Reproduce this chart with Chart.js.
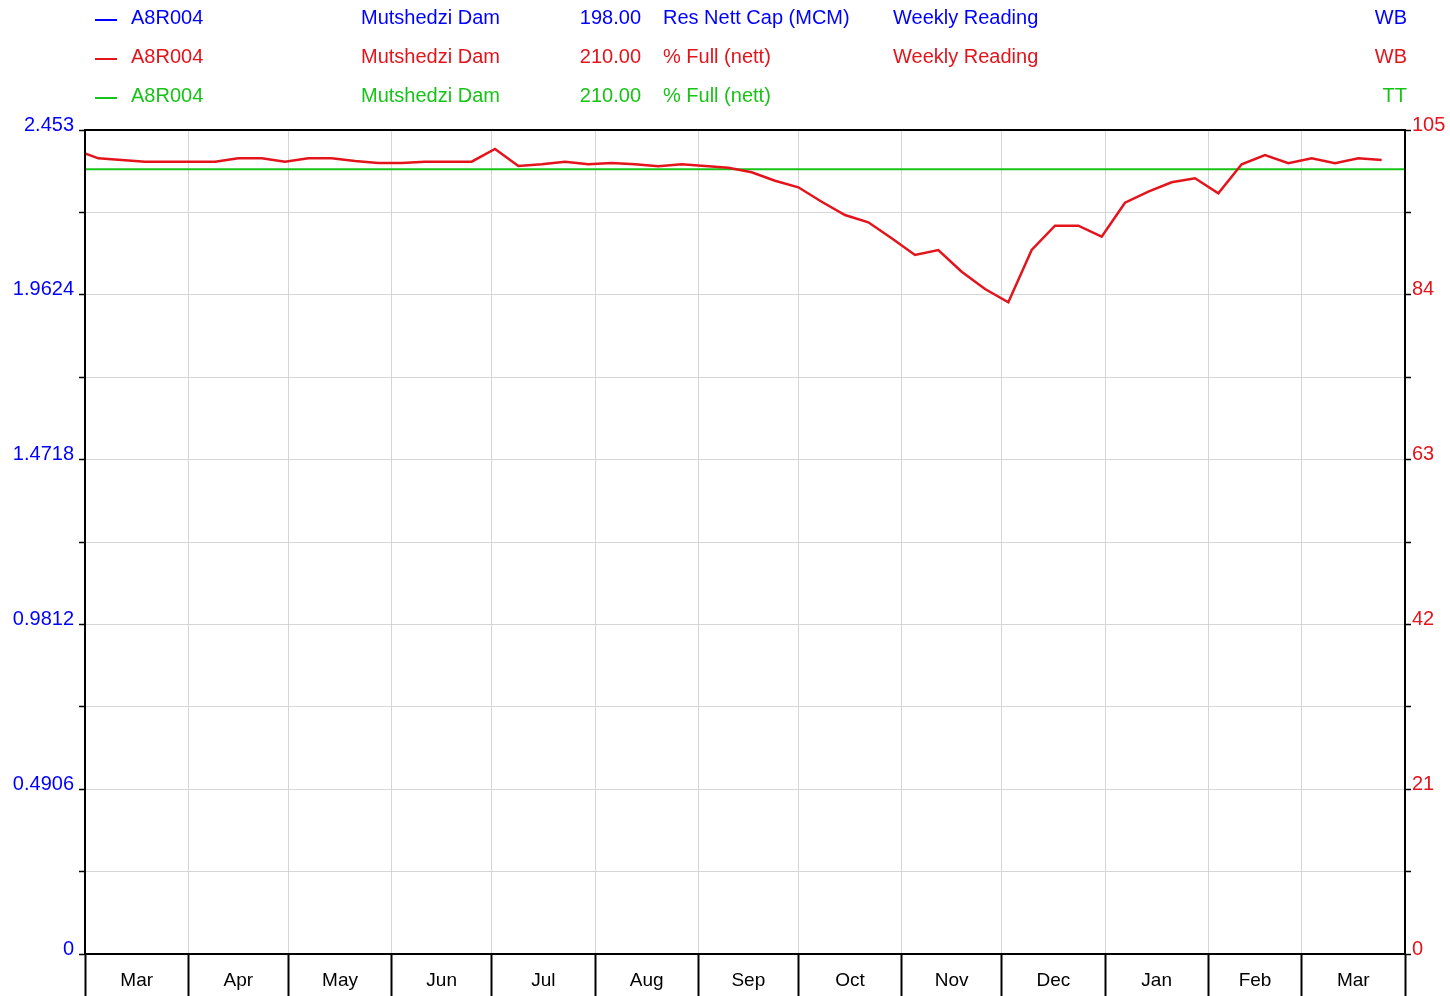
<!DOCTYPE html>
<html>
<head>
<meta charset="utf-8">
<script src="https://cdn.jsdelivr.net/npm/chart.js@4"></script>
<style>
  body { margin: 0; background: #fff; font-family: Arial, "Liberation Sans", sans-serif; }
  #wrap { position: relative; width: 1450px; height: 996px; }
  canvas { position: absolute; left: 0; top: 0; }
  .hd { position: absolute; font-size: 20px; line-height: 22px; white-space: nowrap; }
  .r { text-align: right; }
  .mk { position: absolute; width: 22px; height: 2px; }
</style>
</head>
<body>
<div id="wrap">
  <canvas id="chart" width="1450" height="996"></canvas>
  <div id="head"></div>
</div>
<script>
// weekly readings, x = day counted from 1 Mar
var dayNo = [0, 4, 11, 18, 25, 32, 39, 46, 53, 60, 67, 74, 81, 88, 95, 102, 109, 116, 123, 130,
  137, 144, 151, 158, 165, 172, 179, 186, 193, 200, 207, 214, 221, 228, 235, 242, 249, 256, 263, 270,
  277, 284, 291, 298, 305, 312, 319, 326, 333, 340, 347, 354, 361, 368, 375, 382, 389];
// % Full (nett)
var pctFull = [102.03, 101.39, 101.18, 100.96, 100.96, 100.96, 100.96, 101.39, 101.39, 100.96,
  101.39, 101.39, 101.05, 100.80, 100.80, 100.96, 100.96, 100.96, 102.58, 100.41,
  100.63, 100.96, 100.63, 100.80, 100.63, 100.37, 100.63, 100.41, 100.20, 99.61,
  98.54, 97.70, 95.86, 94.17, 93.24, 91.20, 89.07, 89.71, 86.94, 84.74,
  83.04, 89.71, 92.81, 92.81, 91.40, 95.74, 97.14, 98.34, 98.85, 96.93,
  100.63, 101.81, 100.76, 101.39, 100.76, 101.39, 101.18];
// TT line
var fullDays = [0, 396];
var fullPct = [100, 100];

var monthStarts = [0, 31, 61, 92, 122, 153, 184, 214, 245, 275, 306, 337, 365, 396];
var monthNames = ['Mar', 'Apr', 'May', 'Jun', 'Jul', 'Aug', 'Sep', 'Oct', 'Nov', 'Dec', 'Jan', 'Feb', 'Mar'];
var capLabels = ['0', '0.4906', '0.9812', '1.4718', '1.9624', '2.453'];
var pctLabels = ['0', '21', '42', '63', '84', '105'];

var BLUE = '#0000ff', RED = '#e3141c', GREEN = '#17c317';

// header rows
var rows = [
  [BLUE, 'A8R004', 'Mutshedzi Dam', '198.00', 'Res Nett Cap (MCM)', 'Weekly Reading', 'WB'],
  [RED, 'A8R004', 'Mutshedzi Dam', '210.00', '% Full (nett)', 'Weekly Reading', 'WB'],
  [GREEN, 'A8R004', 'Mutshedzi Dam', '210.00', '% Full (nett)', '', 'TT']
];
var head = document.getElementById('head');
rows.forEach(function (r, i) {
  var y = 6 + i * 39;
  var c = r[0];
  head.innerHTML +=
    '<div class="mk" style="left:95px;top:' + (y + 13) + 'px;background:' + c + '"></div>' +
    '<div class="hd" style="left:131px;top:' + y + 'px;color:' + c + '">' + r[1] + '</div>' +
    '<div class="hd" style="left:361px;top:' + y + 'px;color:' + c + '">' + r[2] + '</div>' +
    '<div class="hd r" style="left:541px;width:100px;top:' + y + 'px;color:' + c + '">' + r[3] + '</div>' +
    '<div class="hd" style="left:663px;top:' + y + 'px;color:' + c + '">' + r[4] + '</div>' +
    '<div class="hd" style="left:893px;top:' + y + 'px;color:' + c + '">' + r[5] + '</div>' +
    '<div class="hd r" style="left:1307px;width:100px;top:' + y + 'px;color:' + c + '">' + r[6] + '</div>';
});

function pts(xs, ys) {
  return xs.map(function (x, i) { return { x: x, y: ys[i] }; });
}
function isBoundary(v) {
  return monthStarts.indexOf(v) >= 0;
}

var frame = {
  id: 'frame',
  afterDraw: function (chart) {
    var a = chart.chartArea, ctx = chart.ctx;
    ctx.save();
    ctx.strokeStyle = '#000';
    ctx.lineWidth = 2;
    ctx.strokeRect(a.left, a.top, a.right - a.left, a.bottom - a.top);
    ctx.restore();
  }
};

Chart.defaults.font.family = 'Arial, "Liberation Sans", sans-serif';
Chart.defaults.font.size = 20;

var ctx = document.getElementById('chart').getContext('2d');
new Chart(ctx, {
  type: 'line',
  data: {
    datasets: [{
      data: pts(dayNo, pctFull),
      yAxisID: 'yr',
      borderColor: RED,
      borderWidth: 2.5,
      pointRadius: 0,
      tension: 0,
      order: 1
    }, {
      data: pts(fullDays, fullPct),
      yAxisID: 'yr',
      borderColor: GREEN,
      borderWidth: 2,
      pointRadius: 0,
      order: 2
    }]
  },
  options: {
    responsive: false,
    animation: false,
    layout: { padding: { top: 130, left: 0, right: 0, bottom: 0 } },
    plugins: { legend: { display: false }, tooltip: { enabled: false } },
    scales: {
      x: {
        type: 'linear',
        min: 0,
        max: 396,
        afterBuildTicks: function (s) {
          var t = [];
          for (var i = 0; i < monthStarts.length; i++) {
            t.push({ value: monthStarts[i] });
            if (i < monthNames.length) t.push({ value: (monthStarts[i] + monthStarts[i + 1]) / 2 });
          }
          s.ticks = t;
        },
        afterFit: function (s) { s.height = 42; },
        border: { display: false },
        grid: {
          color: function (c) { return c.tick && isBoundary(c.tick.value) ? '#d6d6d6' : 'rgba(0,0,0,0)'; },
          tickColor: function (c) { return c.tick && isBoundary(c.tick.value) ? '#000' : 'rgba(0,0,0,0)'; },
          tickLength: 42,
          lineWidth: 1,
          tickWidth: 2
        },
        ticks: {
          autoSkip: false,
          maxRotation: 0,
          color: '#000',
          font: { size: 19 },
          padding: -27,
          callback: function (v) {
            if (isBoundary(v)) return '';
            for (var i = 0; i < monthNames.length; i++) {
              if (v > monthStarts[i] && v < monthStarts[i + 1]) return monthNames[i];
            }
            return '';
          }
        }
      },
      y: {
        position: 'left',
        min: 0,
        max: 2.453,
        afterBuildTicks: function (s) {
          var t = [];
          for (var i = 0; i <= 10; i++) t.push({ value: 0.2453 * i });
          s.ticks = t;
        },
        afterFit: function (s) { s.width = 85; },
        border: { display: false },
        grid: { color: '#d6d6d6', tickColor: '#000', tickLength: 6, tickWidth: 1.5 },
        ticks: {
          color: BLUE,
          padding: 5,
          labelOffset: -5,
          callback: function (v, i) { return i % 2 === 0 ? capLabels[i / 2] : ''; }
        }
      },
      yr: {
        position: 'right',
        min: 0,
        max: 105,
        afterBuildTicks: function (s) {
          var t = [];
          for (var i = 0; i <= 10; i++) t.push({ value: 10.5 * i });
          s.ticks = t;
        },
        afterFit: function (s) { s.width = 45; },
        border: { display: false },
        grid: { drawOnChartArea: false, tickColor: '#000', tickLength: 6, tickWidth: 1.5 },
        ticks: {
          color: RED,
          padding: 1,
          labelOffset: -5,
          callback: function (v, i) { return i % 2 === 0 ? pctLabels[i / 2] : ''; }
        }
      }
    }
  },
  plugins: [frame]
});
</script>
</body>
</html>
